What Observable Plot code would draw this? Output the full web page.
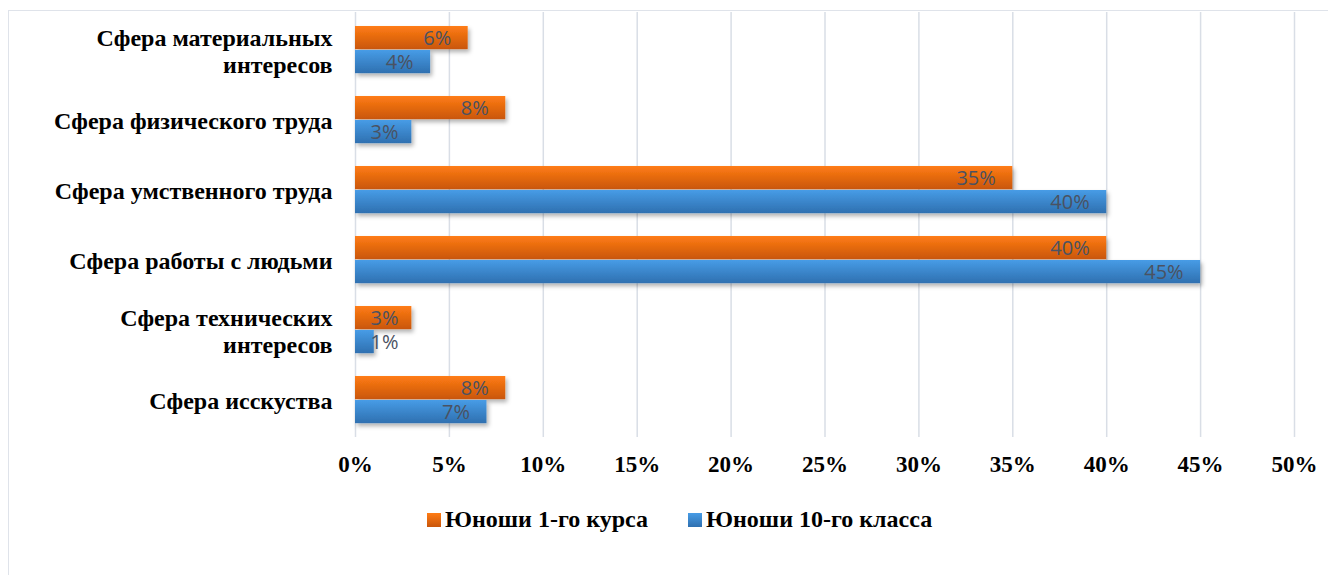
<!DOCTYPE html>
<html>
<head>
<meta charset="utf-8">
<script src="https://cdn.jsdelivr.net/npm/d3@7"></script>
<script src="https://cdn.jsdelivr.net/npm/@observablehq/plot@0.6"></script>
<style>
  html, body { margin: 0; padding: 0; background: #fff; }
  #wrap { position: relative; width: 1328px; height: 575px; overflow: hidden; }
  #frame { position: absolute; left: 8px; top: 10px; right: -5px; bottom: -5px;
           border-top: 1.5px solid #dfe3ea; border-left: 1.5px solid #dfe3ea; }
  #chart { position: absolute; left: 0; top: 0; }
  #legend { position: absolute; left: 427px; top: 506px; display: flex; align-items: center;
            font-family: "Liberation Serif", "Times New Roman", serif; font-weight: bold; font-size: 24px; color: #000; }
  .item { display: flex; align-items: center; margin-right: 40px; }
  .sw { width: 14px; height: 14px; margin-right: 4px; }
</style>
</head>
<body>
<div id="wrap">
  <div id="frame"></div>
  <div id="chart"></div>
  <div id="legend"></div>
</div>
<script>
const categories = [
  "Сфера материальных интересов",
  "Сфера физического труда",
  "Сфера умственного труда",
  "Сфера работы с людьми",
  "Сфера технических интересов",
  "Сфера исскуства"
];
const categoryLabels = [
  "Сфера материальных\nинтересов",
  "Сфера физического труда",
  "Сфера умственного труда",
  "Сфера работы с людьми",
  "Сфера технических\nинтересов",
  "Сфера исскуства"
];
const seriesNames = ["Юноши 1-го курса", "Юноши 10-го класса"];
const course1 = [6, 8, 35, 40, 3, 8];
const grade10 = [4, 3, 40, 45, 1, 7];
const xTicks = [0, 5, 10, 15, 20, 25, 30, 35, 40, 45, 50];

const dataO = categories.map((c, i) => ({cat: c, v: course1[i]}));
const dataB = categories.map((c, i) => ({cat: c, v: grade10[i]}));
const labels = categories.map((c, i) => ({cat: c, label: categoryLabels[i]}));

const labelFill = "#4a5262";
const valFont = "Open Sans, sans-serif";
const bandStep = (437 - 12) / categories.length;

function valueTexts(data, dy) {
  return [
    Plot.text(data.filter(d => d.v > 3), {x: "v", y: "cat", text: d => d.v + "%", textAnchor: "end", dx: -17, dy,
      fill: labelFill, fontSize: 20, fontFamily: valFont}),
    Plot.text(data.filter(d => d.v <= 3), {x: 0, y: "cat", text: d => d.v + "%", textAnchor: "start", dx: 15, dy,
      fill: labelFill, fontSize: 20, fontFamily: valFont})
  ];
}

const plot = Plot.plot({
  width: 1328,
  height: 490,
  marginLeft: 355,
  marginRight: 34,
  marginTop: 12,
  marginBottom: 53,
  style: {fontFamily: "Liberation Serif, Times New Roman, serif", background: "transparent"},
  x: {domain: [0, 50], ticks: xTicks, tickFormat: d => d + "%", label: null},
  y: {domain: categories, padding: 0, axis: null},
  marks: [
    Plot.ruleX(xTicks, {x: d => d, stroke: "#d9dee6", strokeWidth: 1.5}),
    Plot.barX(dataO, {x: "v", y: "cat", fill: "url(#gradO)", insetTop: 11, insetBottom: bandStep - 35}),
    Plot.barX(dataB, {x: "v", y: "cat", fill: "url(#gradB)", insetTop: 35, insetBottom: bandStep - 59}),
    ...valueTexts(dataO, -12),
    ...valueTexts(dataB, 12),
    Plot.text(labels, {x: 0, y: "cat", text: "label", textAnchor: "end", dx: -23, fontSize: 24,
      fontWeight: "bold", lineHeight: 1.15, fill: "#000"}),
    Plot.axisX({ticks: xTicks, tickFormat: d => d + "%", tickSize: 0, tickPadding: 18, fontSize: 23,
      fontWeight: "bold", fill: "#000", label: null})
  ]
});

const svg = d3.select(plot);
const defs = svg.insert("defs", ":first-child");
function grad(id, top, bottom) {
  const g = defs.append("linearGradient").attr("id", id).attr("x1", 0).attr("y1", 0).attr("x2", 0).attr("y2", 1);
  g.append("stop").attr("offset", "0%").attr("stop-color", top);
  g.append("stop").attr("offset", "100%").attr("stop-color", bottom);
}
grad("gradO", "#ff7c14", "#c9560b");
grad("gradB", "#479ce6", "#2f70b0");
const f = defs.append("filter").attr("id", "shadow").attr("x", "-5%").attr("y", "-20%").attr("width", "115%").attr("height", "160%");
f.append("feDropShadow").attr("dx", 2).attr("dy", 3).attr("stdDeviation", 2).attr("flood-color", "#000").attr("flood-opacity", 0.3);
svg.selectAll("g[aria-label='bar']").attr("filter", "url(#shadow)");

document.getElementById("chart").appendChild(plot);

const legend = document.getElementById("legend");
const grads = ["linear-gradient(#ff7c14,#c9560b)", "linear-gradient(#479ce6,#2f70b0)"];
seriesNames.forEach((name, i) => {
  const item = document.createElement("div");
  item.className = "item";
  const sw = document.createElement("div");
  sw.className = "sw";
  sw.style.background = grads[i];
  const t = document.createElement("span");
  t.textContent = name;
  item.appendChild(sw);
  item.appendChild(t);
  legend.appendChild(item);
});
</script>
</body>
</html>
